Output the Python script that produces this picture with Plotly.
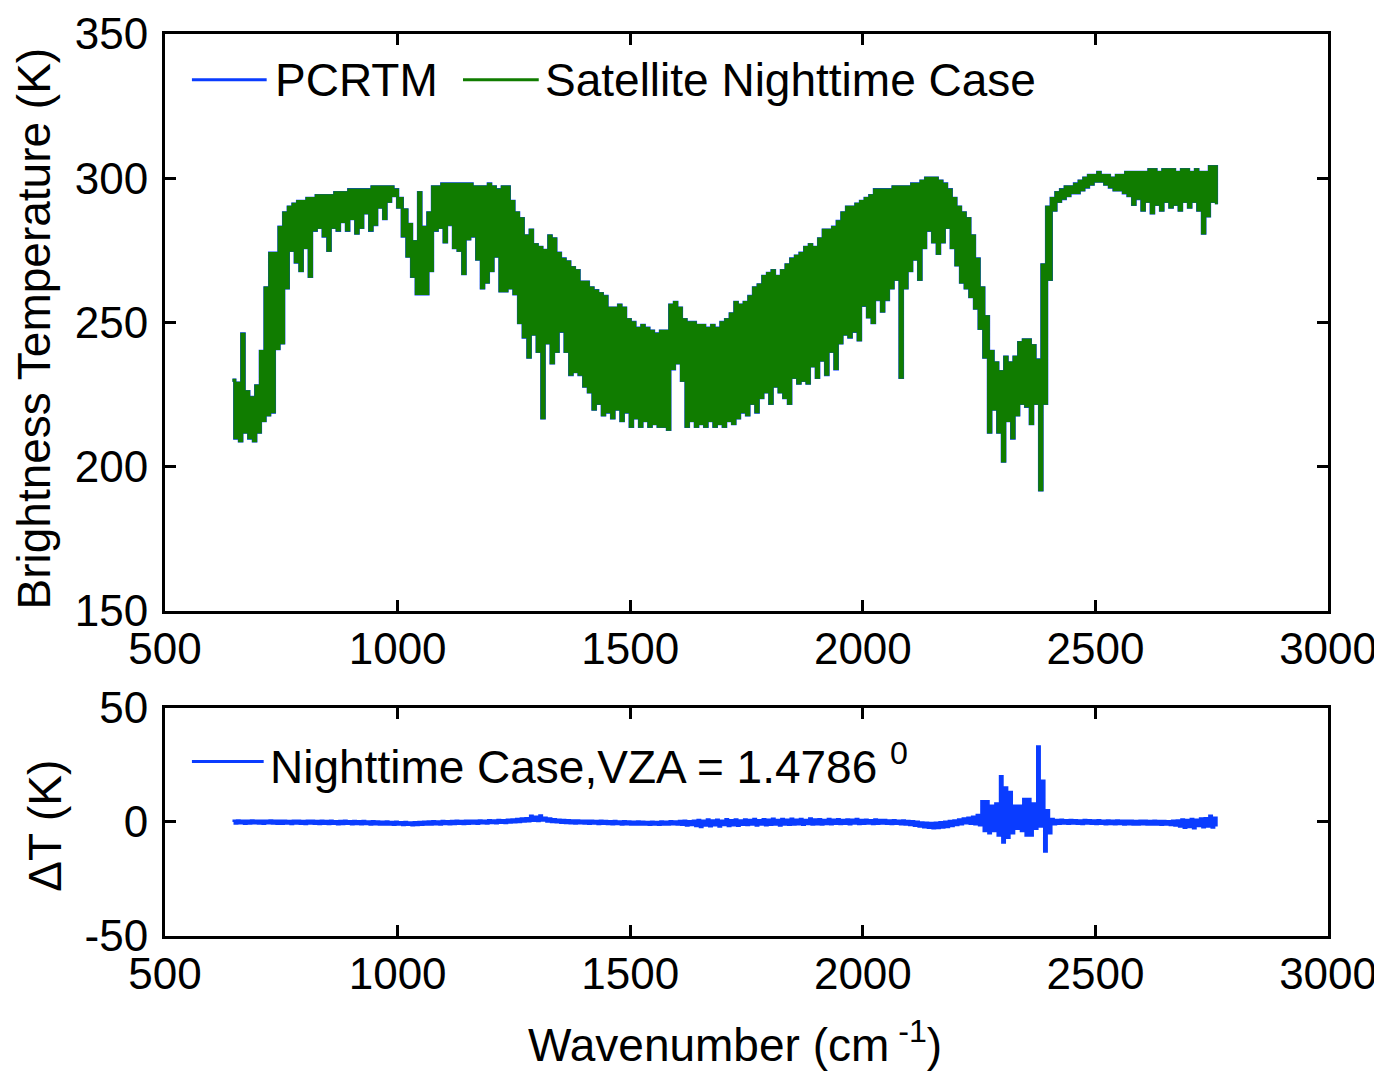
import numpy as np
import plotly.graph_objects as go

# ---------------- data ----------------
# spectral grid, cm^-1 (IASI-like range 645 - 2760)
wn_grid = np.arange(645, 2756, 10)

# Satellite nighttime brightness temperature: upper / lower envelope of the dense line spectrum (K)
bt_upper = [
    230, 229, 246, 226, 224, 228, 240, 262, 274, 274,
    283, 288, 290, 291, 292, 292, 293, 293, 294, 294,
    294, 294, 295, 295, 295, 296, 296, 296, 296, 296,
    297, 297, 297, 297, 297, 296, 293, 289, 284, 278,
    295, 283, 288, 297, 297, 298, 298, 298, 298, 298,
    298, 298, 297, 297, 297, 298, 297, 296, 297, 297,
    292, 288, 286, 280, 282, 277, 276, 275, 280, 279,
    274, 272, 271, 269, 268, 264, 264, 262, 261, 260,
    259, 255, 255, 256, 255, 251, 250, 248, 249, 248,
    247, 246, 247, 247, 256, 257, 255, 251, 250, 250,
    249, 249, 248, 249, 248, 250, 251, 253, 257, 256,
    257, 259, 262, 263, 266, 267, 268, 266, 268, 270,
    272, 273, 274, 276, 277, 276, 279, 282, 282, 283,
    285, 288, 290, 290, 291, 292, 293, 294, 296, 296,
    296, 296, 297, 297, 297, 297, 298, 298, 299, 300,
    300, 300, 299, 298, 296, 293, 290, 288, 286, 280,
    272, 262, 252, 240, 236, 233, 238, 236, 238, 243,
    244, 244, 242, 237, 270, 290, 293, 295, 296, 297,
    297, 298, 299, 300, 301, 301, 302, 301, 301, 300,
    301, 301, 302, 302, 302, 302, 302, 303, 303, 302,
    303, 303, 303, 302, 303, 303, 302, 303, 302, 302,
    304, 304,
]
bt_lower = [
    210, 209, 212, 210, 209, 212, 216, 218, 219, 241,
    243, 262, 275, 271, 268, 276, 266, 282, 283, 280,
    275, 283, 282, 285, 282, 286, 281, 283, 288, 282,
    284, 290, 286, 292, 294, 290, 280, 273, 266, 260,
    260, 260, 268, 282, 283, 278, 284, 276, 275, 267,
    279, 280, 272, 262, 264, 268, 273, 261, 261, 262,
    260, 250, 245, 238, 246, 240, 217, 243, 236, 240,
    247, 240, 232, 233, 232, 228, 226, 220, 222, 218,
    219, 217, 220, 216, 219, 214, 217, 214, 216, 214,
    215, 214, 214, 213, 234, 236, 230, 214, 216, 214,
    215, 214, 216, 214, 215, 214, 216, 215, 217, 219,
    218, 222, 219, 224, 226, 222, 228, 226, 224, 222,
    231, 229, 230, 229, 235, 231, 237, 232, 240, 234,
    243, 246, 245, 247, 244, 256, 252, 250, 258, 254,
    258, 262, 265, 231, 262, 268, 272, 265, 276, 282,
    278, 274, 278, 283, 276, 270, 264, 262, 259, 255,
    248, 238, 212, 220, 212, 202, 216, 210, 218, 222,
    221, 215, 222, 192, 222, 265, 289, 292, 293, 294,
    295, 295, 296, 297, 298, 299, 299, 298, 297, 296,
    296, 295, 294, 291, 293, 289, 292, 288, 291, 289,
    292, 290, 291, 289, 292, 290, 292, 289, 281, 287,
    292, 291,
]
# PCRTM simulation (visually identical to the satellite spectrum at this scale)
pcrtm_upper = bt_upper
pcrtm_lower = bt_lower

# Difference spectrum Delta T: upper / lower envelope (K)
dt_upper = [
    0.5, 0.6, 0.4, 0.5, 0.6, 0.5, 0.4, 0.5, 0.6, 0.5,
    0.4, 0.5, 0.3, 0.5, 0.4, 0.3, 0.5, 0.4, 0.3, 0.4,
    0.3, 0.4, 0.2, 0.3, 0.4, 0.2, 0.3, 0.2, 0.3, 0.1,
    0.2, 0.1, 0.0, 0.1, -0.1, 0.0, -0.2, -0.1, -0.3, -0.2,
    -0.1, 0.0, 0.1, 0.2, 0.1, 0.3, 0.2, 0.3, 0.4, 0.3,
    0.4, 0.5, 0.4, 0.6, 0.5, 0.7, 0.6, 0.8, 0.7, 0.9,
    1.0, 1.2, 1.4, 1.6, 2.6, 2.2, 2.8, 1.8, 1.4, 1.1,
    0.9, 0.8, 0.7, 0.6, 0.6, 0.5, 0.4, 0.5, 0.3, 0.4,
    0.3, 0.2, 0.3, 0.1, 0.2, 0.1, 0.0, 0.1, 0.0, -0.1,
    0.0, -0.1, 0.1, 0.0, 0.2, 0.1, 0.3, 0.4, 0.2, 0.5,
    0.8, 0.4, 1.0, 0.6, 0.9, 0.5, 1.1, 0.7, 1.0, 0.6,
    1.0, 0.8, 1.2, 0.7, 1.1, 0.9, 1.3, 0.8, 1.2, 0.9,
    1.3, 0.9, 1.2, 0.8, 1.4, 1.0, 1.1, 0.8, 1.2, 0.9,
    1.1, 0.8, 1.0, 0.9, 1.2, 0.8, 0.9, 0.7, 1.0, 0.8,
    0.8, 0.6, 0.7, 0.5, 0.6, 0.3, 0.2, 0.0, -0.3, -0.4,
    -0.5, -0.4, -0.2, 0.0, 0.3, 0.6, 1.0, 1.4, 1.8, 2.2,
    3.0, 9, 9, 7, 8, 20, 15, 13, 7, 7,
    10, 10, 8, 33, 18, 5, 1.2, 0.8, 0.9, 0.7,
    0.8, 0.7, 0.6, 0.8, 0.7, 0.6, 0.7, 0.5, 0.6, 0.5,
    0.6, 0.4, 0.5, 0.4, 0.3, 0.5, 0.4, 0.3, 0.4, 0.3,
    0.3, 0.2, 0.4, 0.6, 1.0, 0.8, 1.2, 0.9, 1.4, 1.6,
    2.6, 1.8,
]
dt_lower = [
    -0.7, -0.6, -0.8, -0.7, -0.6, -0.7, -0.8, -0.6, -0.7, -0.8,
    -0.8, -0.7, -0.9, -0.7, -0.8, -0.9, -0.7, -0.8, -0.9, -0.8,
    -0.9, -0.8, -1.0, -0.9, -0.8, -1.0, -0.9, -1.0, -0.9, -1.1,
    -1.0, -1.1, -1.2, -1.1, -1.3, -1.2, -1.4, -1.3, -1.5, -1.4,
    -1.3, -1.2, -1.1, -1.0, -1.1, -0.9, -1.0, -0.9, -0.8, -0.9,
    -0.8, -0.7, -0.8, -0.6, -0.7, -0.5, -0.6, -0.4, -0.5, -0.3,
    -0.2, 0.0, 0.2, 0.3, 0.5, 0.4, 0.6, 0.2, 0.0, -0.2,
    -0.4, -0.5, -0.6, -0.7, -0.6, -0.7, -0.8, -0.7, -0.9, -0.8,
    -0.9, -1.0, -0.9, -1.1, -1.0, -1.1, -1.2, -1.1, -1.2, -1.3,
    -1.2, -1.3, -1.1, -1.2, -1.0, -1.1, -1.3, -1.6, -1.4, -1.8,
    -2.2, -1.6, -1.9, -1.5, -2.0, -1.4, -1.8, -1.5, -1.7, -1.3,
    -1.4, -1.2, -1.6, -1.1, -1.5, -1.3, -1.2, -1.6, -1.1, -1.3,
    -1.2, -1.0, -1.3, -0.9, -1.1, -1.0, -1.2, -0.9, -1.0, -0.8,
    -0.9, -0.8, -1.0, -0.7, -0.9, -0.8, -0.7, -0.9, -0.8, -0.7,
    -0.8, -0.9, -0.8, -1.0, -1.1, -1.4, -1.7, -2.0, -2.4, -2.6,
    -2.8, -2.7, -2.5, -2.2, -1.8, -1.4, -1.0, -0.6, -0.8, -1.0,
    -1.5, -4, -5, -4, -6, -9, -7, -5, -3, -4,
    -6, -6, -3, -2, -13, -5, -1.0, -0.8, -0.7, -0.8,
    -0.7, -0.8, -0.9, -0.7, -0.8, -0.9, -0.8, -1.0, -0.9, -1.0,
    -0.9, -1.1, -1.0, -1.1, -1.2, -1.0, -1.1, -1.2, -1.1, -1.3,
    -1.2, -1.4, -1.6, -2.0, -2.6, -2.2, -2.8, -1.8, -2.4, -2.0,
    -2.5, -2.0,
]

x_ticks = [500, 1000, 1500, 2000, 2500, 3000]
bt_ticks = [150, 200, 250, 300, 350]
dt_ticks = [-50, 0, 50]

# ---------------- helpers ----------------
W, H = 1382, 1071
BLUE = "#0A3CFF"
GREEN = "#107C00"
FONT = "Liberation Sans, Arial, Helvetica, sans-serif"

# page placement correction (figure is drawn slightly offset / scaled in the page)
SX, OX = 1.0034, 5.45
SY, OY = 1.0034, 5.9


def dense_line(grid, upper, lower):
    """Interleave upper/lower envelope samples into one densely oscillating line."""
    g = np.asarray(grid, dtype=float)
    step = g[1] - g[0]
    xs = np.empty(2 * len(g))
    ys = np.empty(2 * len(g))
    xs[0::2] = g
    xs[1::2] = g + step / 2
    ys[0::2] = upper
    ys[1::2] = lower
    return xs, ys


def px(x):
    return ((x - OX) / SX) / W


def py(y):
    return 1 - ((y - OY) / SY) / H


x_dom = [px(163), px(1330)]
top_dom = [py(611), py(32)]
bot_dom = [py(937), py(708)]

fig = go.Figure()

xp, yp = dense_line(wn_grid, pcrtm_upper, pcrtm_lower)
fig.add_trace(go.Scatter(x=xp, y=yp, mode="lines", line=dict(color=BLUE, width=3.4, shape="hv"),
                         name="PCRTM", xaxis="x", yaxis="y", showlegend=False))
xs, ys = dense_line(wn_grid, bt_upper, bt_lower)
fig.add_trace(go.Scatter(x=xs, y=ys, mode="lines", line=dict(color=GREEN, width=2.8, shape="hv"),
                         name="Satellite Nighttime Case", xaxis="x", yaxis="y", showlegend=False))
xd, yd = dense_line(wn_grid, dt_upper, dt_lower)
fig.add_trace(go.Scatter(x=xd, y=yd, mode="lines", line=dict(color=BLUE, width=2.6, shape="hv"),
                         name="Nighttime Case", xaxis="x2", yaxis="y2", showlegend=False))

axis_common = dict(
    showline=True, linecolor="black", linewidth=3, mirror="ticks",
    ticks="inside", ticklen=11, tickwidth=3, tickcolor="black",
    showgrid=False, zeroline=False, automargin=False,
    tickfont=dict(family=FONT, size=44, color="black"),
)

fig.update_layout(
    width=W, height=H,
    margin=dict(l=0, r=0, t=0, b=0, autoexpand=False),
    paper_bgcolor="white", plot_bgcolor="white",
    showlegend=False,
    xaxis=dict(domain=x_dom, range=[500, 3000], tickvals=x_ticks, anchor="y",
               ticklabelstandoff=-3, **axis_common),
    yaxis=dict(domain=top_dom, range=[150, 350], tickvals=bt_ticks, anchor="x",
               ticklabelstandoff=5, **axis_common),
    xaxis2=dict(domain=x_dom, range=[500, 3000], tickvals=x_ticks, anchor="y2",
                ticklabelstandoff=-3, **axis_common),
    yaxis2=dict(domain=bot_dom, range=[-50, 50], tickvals=dt_ticks,
                ticktext=[str(v) for v in dt_ticks], anchor="x2",
                ticklabelstandoff=5, **axis_common),
)

# axis titles
title_font = dict(family=FONT, size=46, color="black")
fig.add_annotation(x=px(32), y=py(327), xref="paper", yref="paper", text="Brightness Temperature (K)",
                   textangle=-90, showarrow=False, font=title_font, xanchor="center", yanchor="middle")
fig.add_annotation(x=px(43), y=py(826), xref="paper", yref="paper", text="\u0394T (K)",
                   textangle=-90, showarrow=False, font=title_font, xanchor="center", yanchor="middle")
fig.add_annotation(x=px(735), y=py(1043), xref="paper", yref="paper",
                   text="Wavenumber (cm<sup> -1</sup>)",
                   showarrow=False, font=title_font, xanchor="center", yanchor="middle")

# legends (drawn manually, MATLAB style with long line samples and no box)
legend_font = dict(family=FONT, size=46, color="black")
fig.add_shape(type="line", xref="paper", yref="paper", x0=px(190), x1=px(265), y0=py(78), y1=py(78),
              line=dict(color=BLUE, width=3))
fig.add_annotation(x=px(271), y=py(78), xref="paper", yref="paper", text="PCRTM",
                   showarrow=False, font=legend_font, xanchor="left", yanchor="middle")
fig.add_shape(type="line", xref="paper", yref="paper", x0=px(462), x1=px(538), y0=py(78), y1=py(78),
              line=dict(color=GREEN, width=3))
fig.add_annotation(x=px(542), y=py(78), xref="paper", yref="paper", text="Satellite Nighttime Case",
                   showarrow=False, font=legend_font, xanchor="left", yanchor="middle")

fig.add_shape(type="line", xref="paper", yref="paper", x0=px(190), x1=px(262), y0=py(762), y1=py(762),
              line=dict(color=BLUE, width=3))
fig.add_annotation(x=px(266), y=py(764), xref="paper", yref="paper",
                   text="Nighttime Case,VZA = 1.4786 <sup>0</sup>",
                   showarrow=False, font=legend_font, xanchor="left", yanchor="middle")

fig.write_html("out.html")
